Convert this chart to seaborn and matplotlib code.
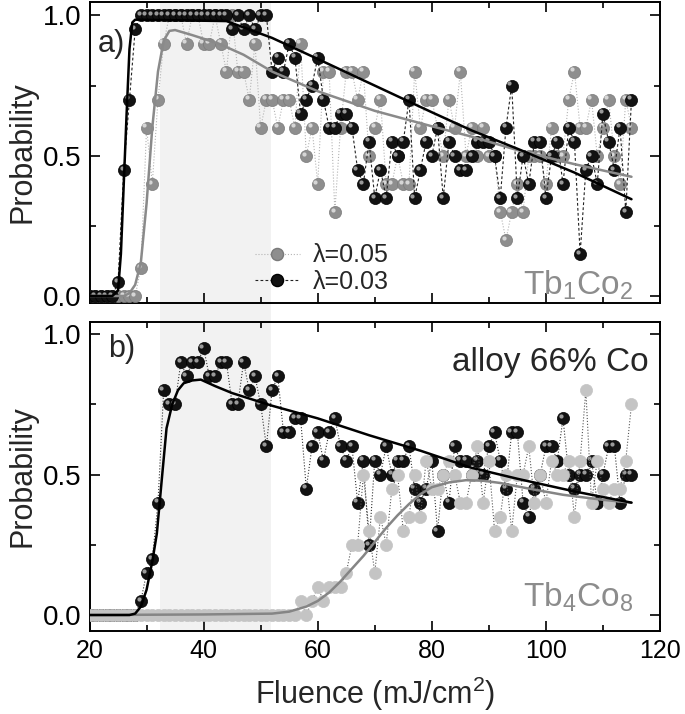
import matplotlib
matplotlib.use("Agg")
import matplotlib.pyplot as plt
import seaborn as sns
from matplotlib.lines import Line2D
from matplotlib.ticker import MultipleLocator, FormatStrFormatter
from matplotlib.transforms import ScaledTranslation

# fluence grid (mJ/cm2), one shot series per step
fluence = list(range(20, 116))

# panel a, Tb1Co2
prob_a_005 = [0, 0, 0, 0, 0, 0, 0, 0, 0,
              .10, .60, .40, .70, .90, 1, 1, 1, .90, 1,
              1, .90, .90, 1, .90, .80, 1, .80, .80, .70,
              .90, .60, .70, .70, .60, .70, .70, .60, .90, .50,
              .60, .40, .80, .80, .30, .60, .80, .80, .70, .80,
              .50, .60, .70, .40, .40, .50, .40, .40, .80, .60,
              .70, .70, .60, .50, .70, .60, .80, .50, .60, .50,
              .60, .50, .50, .30, .20, .30, .40, .30, .50, .50,
              .50, .40, .60, .50, .50, .70, .80, .60, .60, .70,
              .50, .60, .70, .50, .40, .70, .60]
prob_a_003 = [0, 0, 0, 0, 0,
              .05, .45, .70, .95,
              1, 1, 1, 1, 1, 1, 1, 1, 1, 1, 1, 1, 1, 1, 1, 1,
              .95, 1, .95, 1, .95, 1, 1,
              .80, .85, .80, .90, .85, .65, .70, .75, .85, .70,
              .60, .60, .65, .65, .60, .45, .40, .55, .35, .45,
              .35, .55, .50, .55, .70, .35, .45, .55, .50, .60,
              .35, .55, .50, .45, .45, .50, .55, .55, .55, .50,
              .35, .60, .75, .35, .50, .40, .55, .55, .35, .50,
              .55, .40, .60, .55, .15, .45, .50, .40, .65, .55,
              .45, .60, .30, .70]

# panel b, alloy 66% Co
prob_b_alloy = [0, 0, 0, 0, 0, 0, 0, 0, 0,
                .05, .15, .20, .40, .80, .75, .75, .90, .85, .90,
                .90, .95, .85, .85, .90, .90, .75, .75, .90, .80,
                .85, .75, .60, .80, .85, .65, .65, .70, .70, .45,
                .60, .65, .55, .65, .70, .60, .55, .60, .40, .55,
                .25, .55, .50, .60, .50, .55, .55, .60, .45, .40,
                .45, .55, .30, .50, .40, .60, .55, .55, .50, .55,
                .50, .60, .65, .55, .45, .65, .65, .40, .35, .45,
                .50, .60, .60, .55, .70, .50, .45, .50, .50, .55,
                .40, .50, .60, .60, .40, .50, .50]
prob_b_tb4co8 = [0] * 36 + [
                 0, .05, 0, .05, .10, .05, .10, .10, .10, .15,
                 .25, .25, .50, .30, .15, .35, .25, .45, .50, .30,
                 .35, .50, .35, .55, .45, .45, .50, .55, .50, .40,
                 .40, .50, .60, .40, .55, .30, .35, .50, .30, .50,
                 .50, .60, .40, .50, .40, .55, .50, .50, .55, .35,
                 .55, .80, .40, .55, .45, .40, .45, .45, .55, .75]

# fitted curves
fit_a_003_x = [20, 24, 25, 25.5, 26, 26.5, 27, 27.5, 28, 44, 46, 48, 50, 52,
               60, 70, 80, 87, 95, 105, 115]
fit_a_003_y = [0, 0, .02, .15, .40, .65, .88, .975, .985, .98, .965, .95, .935, .92,
               .845, .75, .655, .59, .525, .44, .345]
fit_a_005_x = [20, 26, 27, 28, 29, 30, 31, 32, 33, 34, 35, 38, 42.6, 47, 52,
               60, 70, 80, 87, 95, 105, 115]
fit_a_005_y = [0, 0, .01, .04, .12, .33, .60, .80, .91, .945, .948, .93, .90, .86, .80,
               .73, .66, .605, .568, .52, .47, .425]
fit_b_alloy_x = [20, 27, 28, 29, 30, 31, 31.8, 32.7, 33.5, 34.5, 35.5, 36.5, 38, 39.5,
                 42, 45, 52, 60, 69, 78, 86.8, 95, 105, 115]
fit_b_alloy_y = [0, 0, .005, .03, .09, .19, .29, .49, .665, .75, .80, .825, .835, .838,
                 .815, .79, .745, .70, .64, .585, .525, .485, .44, .40]
fit_b_tb_x = [20, 40, 52, 55, 58, 60, 62, 64, 66, 68, 70, 72, 74, 76, 78, 80, 83, 86,
              89, 92, 97, 103, 110, 115]
fit_b_tb_y = [0, .002, .005, .012, .03, .05, .08, .12, .165, .21, .26, .31, .355, .395,
              .43, .455, .472, .48, .478, .47, .45, .428, .41, .40]

# high-probability window
window = (32.3, 51.8)

sns.set_theme(style="ticks")
plt.rcParams["font.family"] = ["Liberation Sans", "DejaVu Sans"]
plt.rcParams["mathtext.default"] = "regular"

fig = plt.figure(figsize=(6.85, 7.14), dpi=100)
left, width = 0.1307, 0.8328
ax_bg = fig.add_axes([left, 0.1162, width, 0.881], zorder=0)
ax_a = fig.add_axes([left, 0.5756, width, 0.4216], zorder=1)
ax_b = fig.add_axes([left, 0.1162, width, 0.4332], zorder=1)

ax_bg.set_xlim(20, 120)
ax_bg.axvspan(*window, color="#f2f2f2", lw=0)
ax_bg.axis("off")

MS = 76


def balls(ax, y, base, hi, z, edge):
    sns.scatterplot(x=fluence, y=y, ax=ax, color=base, s=MS,
                    edgecolor=edge, linewidth=0.5, zorder=z, legend=False)
    if hi is None:
        return
    off = ax.transData + ScaledTranslation(-1.6 / 72, 1.6 / 72, fig.dpi_scale_trans)
    sns.scatterplot(x=fluence, y=y, ax=ax, color=hi, s=MS * 0.12,
                    linewidth=0, zorder=z + 0.1, legend=False, transform=off)


def link(ax, y, color, ls, z):
    sns.lineplot(x=fluence, y=y, ax=ax, color=color, lw=0.8, sort=False,
                 estimator=None, zorder=z, linestyle=ls)


def fit(ax, x, y, color, z):
    sns.lineplot(x=x, y=y, ax=ax, color=color, lw=1.8, sort=False,
                 estimator=None, zorder=z)


# panel a
link(ax_a, prob_a_005, "#b4b4b4", ":", 2)
balls(ax_a, prob_a_005, "#8e8e8e", "#d6d6d6", 3, "#7a7a7a")
link(ax_a, prob_a_003, "#222222", (0, (2.5, 2)), 4)
balls(ax_a, prob_a_003, "#121212", "#9a9a9a", 5, "#000000")
fit(ax_a, fit_a_005_x, fit_a_005_y, "#8a8a8a", 7)
fit(ax_a, fit_a_003_x, fit_a_003_y, "#000000", 8)

# panel b
link(ax_b, prob_b_alloy, "#333333", ":", 2)
balls(ax_b, prob_b_alloy, "#121212", "#9a9a9a", 3, "#000000")
link(ax_b, prob_b_tb4co8, "#555555", ":", 4)
balls(ax_b, prob_b_tb4co8, "#c4c4c4", None, 5, "#c4c4c4")
fit(ax_b, fit_b_tb_x, fit_b_tb_y, "#858585", 7)
fit(ax_b, fit_b_alloy_x, fit_b_alloy_y, "#000000", 8)

for ax, ylo, yhi in [(ax_a, -0.025, 1.048), (ax_b, -0.057, 1.044)]:
    ax.set_facecolor("none")
    ax.set_xlim(20, 120)
    ax.set_ylim(ylo, yhi)
    ax.xaxis.set_major_locator(MultipleLocator(20))
    ax.xaxis.set_minor_locator(MultipleLocator(10))
    ax.yaxis.set_major_locator(MultipleLocator(0.5))
    ax.yaxis.set_minor_locator(MultipleLocator(0.25))
    ax.yaxis.set_major_formatter(FormatStrFormatter("%.1f"))
    ax.tick_params(which="both", direction="in", top=True, right=True,
                   width=1.2, colors="black", pad=6)
    ax.tick_params(axis="x", labelsize=18)
    ax.tick_params(axis="y", labelsize=20)
    ax.tick_params(which="major", length=7)
    ax.tick_params(which="minor", length=4)
    for s in ax.spines.values():
        s.set_linewidth(1.4)
        s.set_color("black")
    ax.set_ylabel("Probability", fontsize=22, labelpad=4)

ax_a.set_xlabel("")
ax_a.tick_params(labelbottom=False)
ax_b.set_xlabel("Fluence (mJ/cm$^2$)", fontsize=22, labelpad=8)

ax_a.text(21.5, 0.90, "a)", fontsize=22, va="center", ha="left")
ax_b.text(23.2, 0.947, "b)", fontsize=22, va="center", ha="left")
ax_b.text(118, 0.87, "alloy 66% Co", fontsize=24, ha="right", va="baseline")
ax_a.text(115.3, 0.005, "Tb$_1$Co$_2$", fontsize=24, color="#8c8c8c",
          ha="right", va="baseline")
ax_b.text(115.3, 0.031, "Tb$_4$Co$_8$", fontsize=24, color="#8c8c8c",
          ha="right", va="baseline")

handles = [
    Line2D([], [], color="#b4b4b4", ls=":", lw=0.8, marker="o", ms=8.7,
           mfc="#8e8e8e", mec="#7a7a7a"),
    Line2D([], [], color="#222222", ls=(0, (2.5, 2)), lw=0.8, marker="o", ms=8.7,
           mfc="#121212", mec="#000000"),
]
ax_a.legend(handles, ["λ=0.05", "λ=0.03"], loc="lower left",
            bbox_to_anchor=(0.29, 0.03), frameon=False, fontsize=18,
            handlelength=1.8, handletextpad=0.5, labelspacing=0.1,
            borderaxespad=0, borderpad=0)

fig.savefig("out.png", dpi=100)
